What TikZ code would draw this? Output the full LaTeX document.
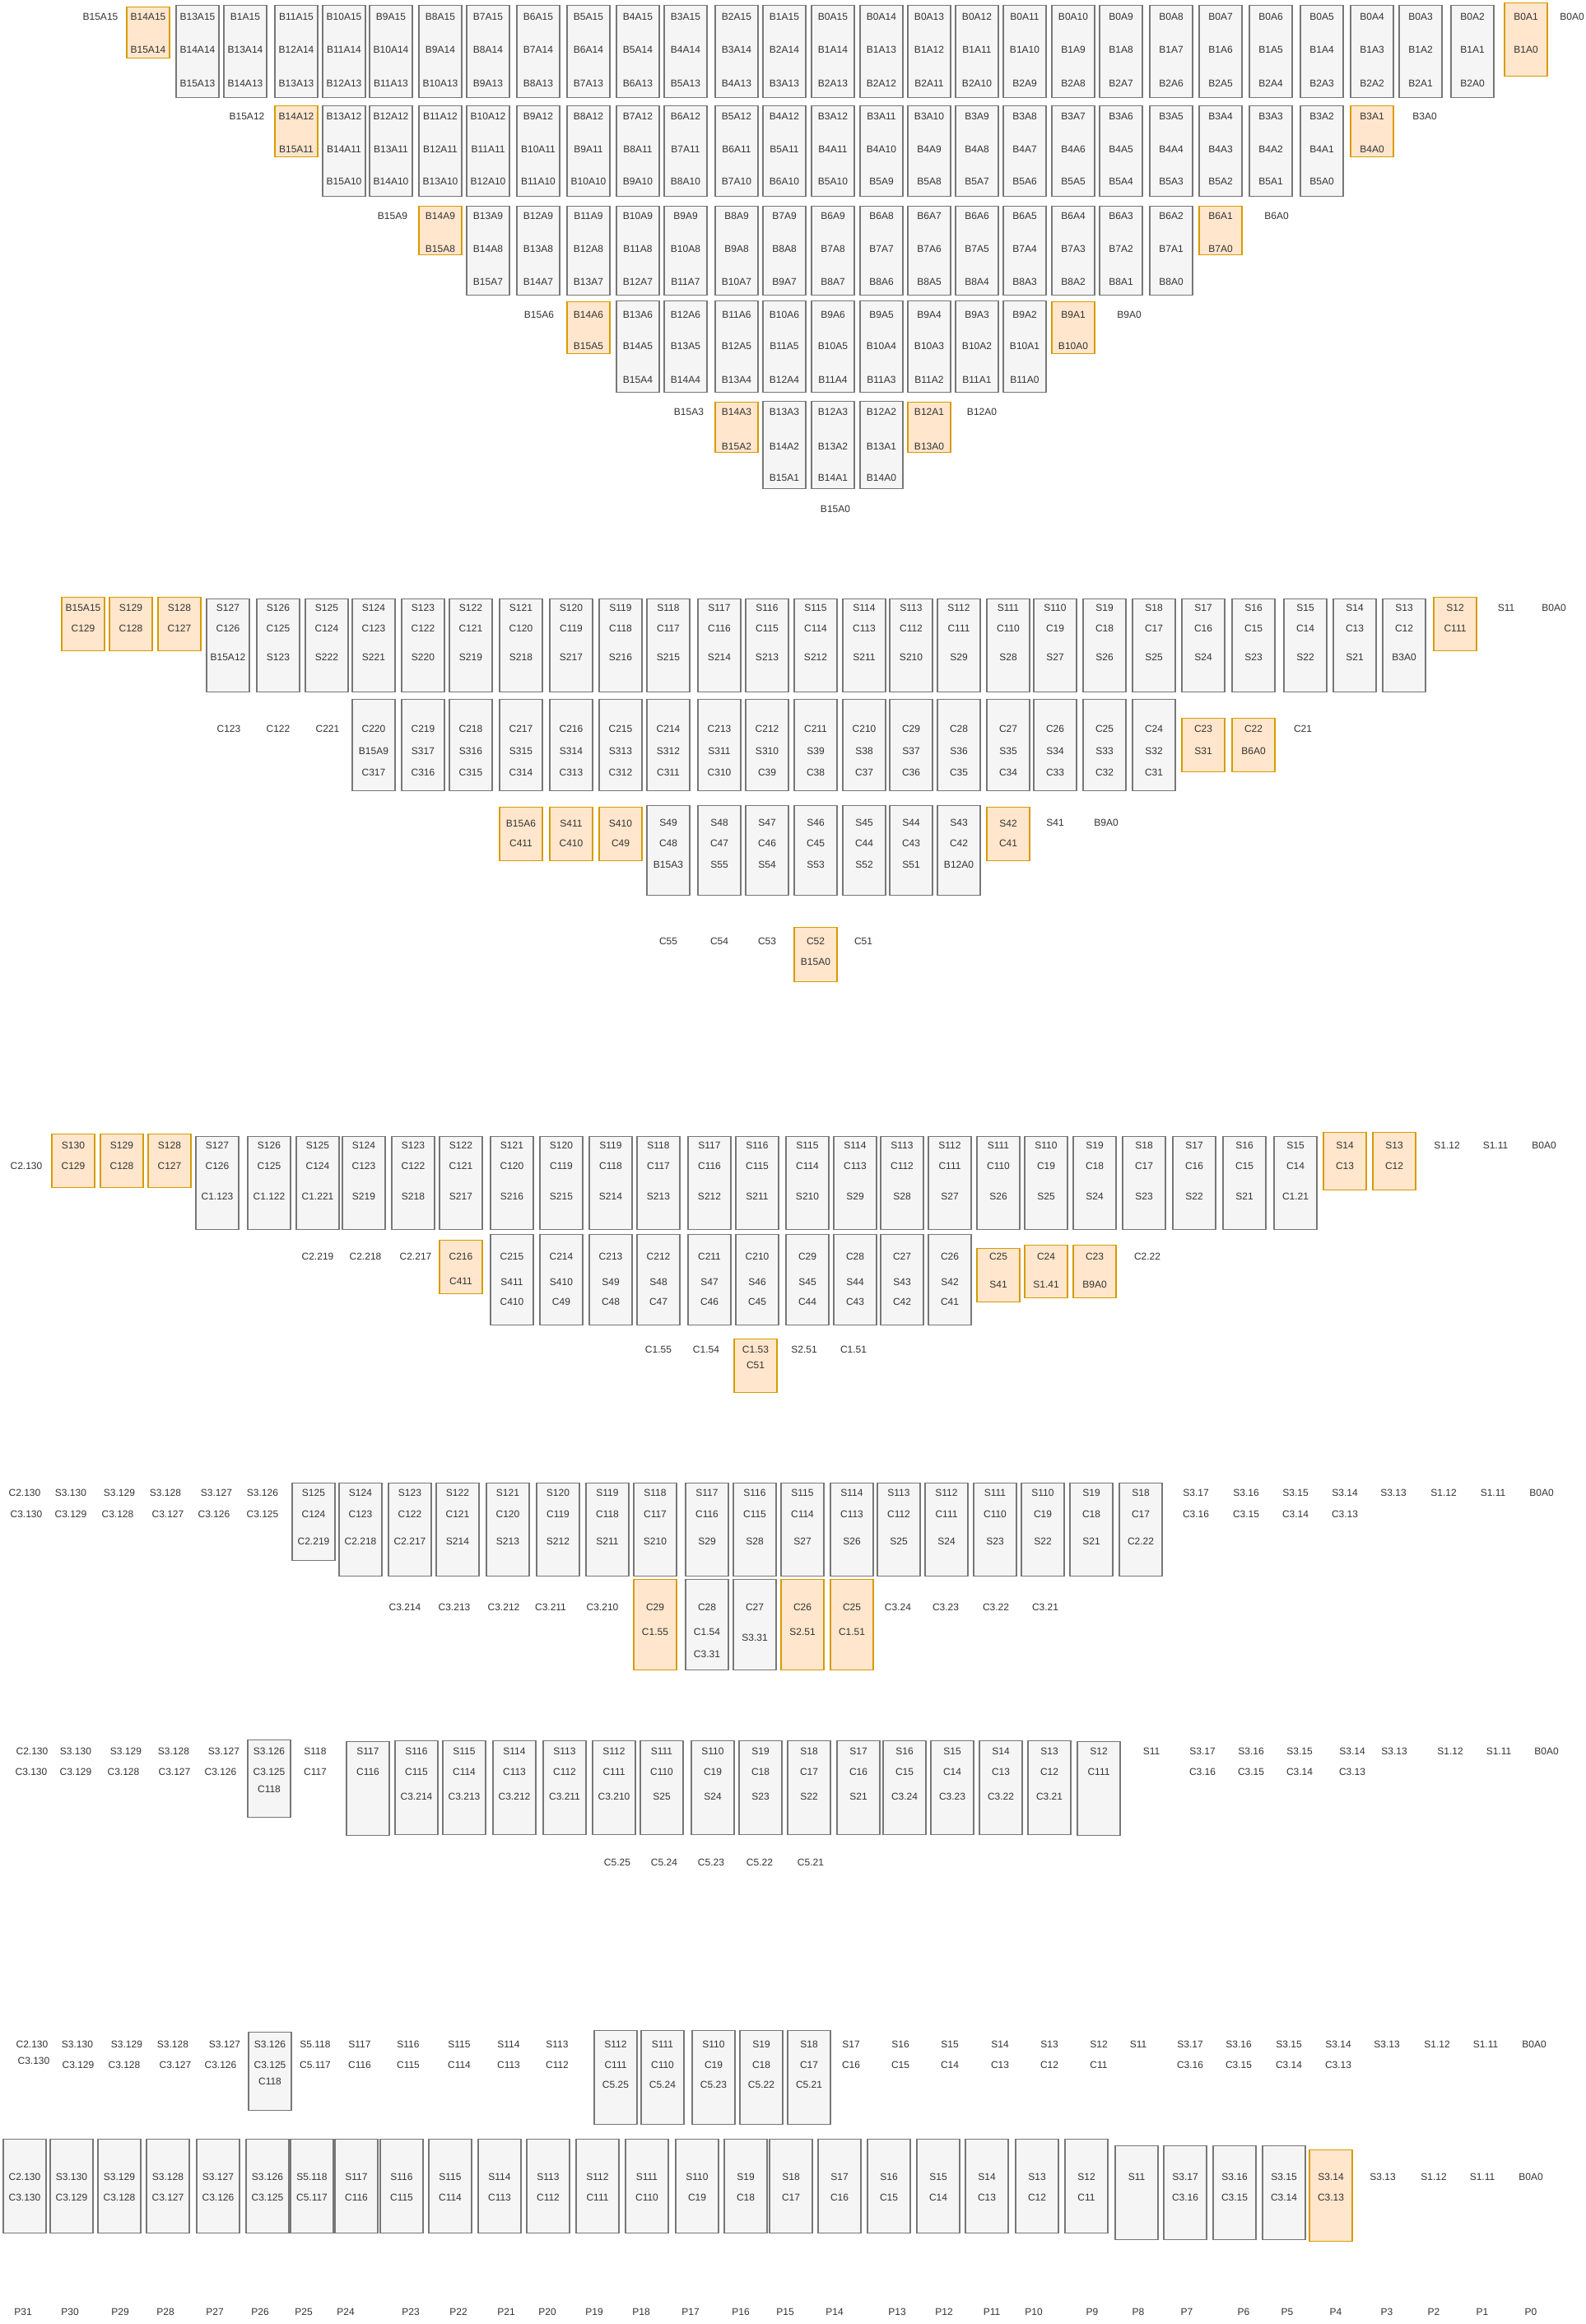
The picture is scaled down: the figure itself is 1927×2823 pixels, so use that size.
\documentclass[tikz,border=0pt]{standalone}
\usepackage{fontspec}
\setmainfont{Liberation Sans}
\definecolor{gfill}{HTML}{F5F5F5}
\definecolor{gline}{HTML}{777777}
\definecolor{ofill}{HTML}{FFE6CC}
\definecolor{oline}{HTML}{D79B00}
\definecolor{tcol}{HTML}{333333}
\tikzset{
 gb/.style={draw=gline, fill=gfill, line width=0.55pt, minimum width=26pt, inner sep=0pt, anchor=north},
 ob/.style={draw=oline, fill=ofill, line width=0.55pt, minimum width=26pt, inner sep=0pt, anchor=north},
 tx/.style={font=\fontsize{6}{7}\selectfont, text=tcol, inner sep=0pt},
}
% box: style, name, x, top, bottom
\newcommand\mybx[5]{\node[#1, minimum height={(#5-#4)*0.5pt}] (#2) at (#3,#4) {};}
% text: name, x, y, text
\newcommand\mytx[4]{\node[tx] (#1) at (#2,#3) {#4};}
% three-line gray boxes: prefix, top, bottom, y1, y2, y3, list x/a/b/c
\newcommand\rowthree[7]{%
 \foreach \x/\p/\q/\r [count=\k] in {#7} {%
   \mybx{gb}{#1\k}{\x}{#2}{#3}
   \mytx{#1\k-a}{\x}{#4}{\p}
   \mytx{#1\k-b}{\x}{#5}{\q}
   \mytx{#1\k-c}{\x}{#6}{\r}
 }}
% two-line boxes: prefix, style, top, bottom, y1, y2, list x/a/b
\newcommand\rowtwo[7]{%
 \foreach \x/\p/\q [count=\k] in {#7} {%
   \mybx{#2}{#1\k}{\x}{#3}{#4}
   \mytx{#1\k-a}{\x}{#5}{\p}
   \mytx{#1\k-b}{\x}{#6}{\q}
 }}
% one-line boxes: prefix, style, top, bottom, y, list x/a
\newcommand\rowone[6]{%
 \foreach \x/\p [count=\k] in {#6} {%
   \mybx{#2}{#1\k}{\x}{#3}{#4}
   \mytx{#1\k-a}{\x}{#5}{\p}
 }}
% single labels: prefix, y, list x/t
\newcommand\mylabs[3]{%
 \foreach \x/\t [count=\k] in {#3} {\mytx{#1\k}{\x}{#2}{\t}}}
% two-line labels: prefix, y1, y2, list x1/t1/x2/t2
\newcommand\labtwo[4]{%
 \foreach \x/\p/\xx/\q [count=\k] in {#4} {\mytx{#1\k-a}{\x}{#2}{\p}\mytx{#1\k-b}{\xx}{#3}{\q}}}

\begin{document}
\begin{tikzpicture}[x=0.5pt,y=-0.5pt]
\fill[white] (0,0) rectangle (1927,2823);
\useasboundingbox (0,0) rectangle (1927,2823);

%================ SECTION 1 =================
% row 1
\mylabs{aL}{20}{122/B15A15,1910/B0A0}
\rowtwo{aO}{ob}{8}{70}{20}{60}{180/B14A15/B15A14}
\rowtwo{aP}{ob}{3}{92}{20}{60}{1854/B0A1/B1A0}
\rowthree{aG}{6}{118}{20}{60}{101}{240/B13A15/B14A14/B15A13,298/B1A15/B13A14/B14A13,360/B11A15/B12A14/B13A13,418/B10A15/B11A14/B12A13,475/B9A15/B10A14/B11A13,535/B8A15/B9A14/B10A13,593/B7A15/B8A14/B9A13,654/B6A15/B7A14/B8A13,715/B5A15/B6A14/B7A13,775/B4A15/B5A14/B6A13,833/B3A15/B4A14/B5A13,895/B2A15/B3A14/B4A13,953/B1A15/B2A14/B3A13,1012/B0A15/B1A14/B2A13,1071/B0A14/B1A13/B2A12,1129/B0A13/B1A12/B2A11,1187/B0A12/B1A11/B2A10,1245/B0A11/B1A10/B2A9,1304/B0A10/B1A9/B2A8,1362/B0A9/B1A8/B2A7,1423/B0A8/B1A7/B2A6,1483/B0A7/B1A6/B2A5,1544/B0A6/B1A5/B2A4,1606/B0A5/B1A4/B2A3,1667/B0A4/B1A3/B2A2,1726/B0A3/B1A2/B2A1,1789/B0A2/B1A1/B2A0}
% row 2
\mylabs{bL}{141}{300/B15A12,1731/B3A0}
\rowtwo{bO}{ob}{128}{190}{141}{181}{360/B14A12/B15A11,1667/B3A1/B4A0}
\rowthree{bG}{128}{238}{141}{181}{220}{418/B13A12/B14A11/B15A10,475/B12A12/B13A11/B14A10,535/B11A12/B12A11/B13A10,593/B10A12/B11A11/B12A10,654/B9A12/B10A11/B11A10,715/B8A12/B9A11/B10A10,775/B7A12/B8A11/B9A10,833/B6A12/B7A11/B8A10,895/B5A12/B6A11/B7A10,953/B4A12/B5A11/B6A10,1012/B3A12/B4A11/B5A10,1071/B3A11/B4A10/B5A9,1129/B3A10/B4A9/B5A8,1187/B3A9/B4A8/B5A7,1245/B3A8/B4A7/B5A6,1304/B3A7/B4A6/B5A5,1362/B3A6/B4A5/B5A4,1423/B3A5/B4A4/B5A3,1483/B3A4/B4A3/B5A2,1544/B3A3/B4A2/B5A1,1606/B3A2/B4A1/B5A0}
% row 3
\mylabs{cL}{262}{477/B15A9,1551/B6A0}
\rowtwo{cO}{ob}{250}{309}{262}{302}{535/B14A9/B15A8,1483/B6A1/B7A0}
\rowthree{cG}{250}{358}{262}{302}{342}{593/B13A9/B14A8/B15A7,654/B12A9/B13A8/B14A7,715/B11A9/B12A8/B13A7,775/B10A9/B11A8/B12A7,833/B9A9/B10A8/B11A7,895/B8A9/B9A8/B10A7,953/B7A9/B8A8/B9A7,1012/B6A9/B7A8/B8A7,1071/B6A8/B7A7/B8A6,1129/B6A7/B7A6/B8A5,1187/B6A6/B7A5/B8A4,1245/B6A5/B7A4/B8A3,1304/B6A4/B7A3/B8A2,1362/B6A3/B7A2/B8A1,1423/B6A2/B7A1/B8A0}
% row 4
\mylabs{dL}{382}{655/B15A6,1372/B9A0}
\rowtwo{dO}{ob}{366}{429}{382}{420}{715/B14A6/B15A5,1304/B9A1/B10A0}
\rowthree{dG}{365}{476}{382}{420}{461}{775/B13A6/B14A5/B15A4,833/B12A6/B13A5/B14A4,895/B11A6/B12A5/B13A4,953/B10A6/B11A5/B12A4,1012/B9A6/B10A5/B11A4,1071/B9A5/B10A4/B11A3,1129/B9A4/B10A3/B11A2,1187/B9A3/B10A2/B11A1,1245/B9A2/B10A1/B11A0}
% row 5
\mylabs{eL}{500}{837/B15A3,1193/B12A0}
\rowtwo{eO}{ob}{488}{549}{500}{542}{895/B14A3/B15A2,1129/B12A1/B13A0}
\rowthree{eG}{487}{593}{500}{542}{580}{953/B13A3/B14A2/B15A1,1012/B12A3/B13A2/B14A1,1071/B12A2/B13A1/B14A0}
% row 6
\mylabs{fL}{618}{1015/B15A0}

%================ SECTION 2 =================
% S1
\mylabs{gL}{738}{1830/S11,1888/B0A0}
\rowtwo{gO}{ob}{725}{790}{738}{763}{101/B15A15/C129,159/S129/C128,218/S128/C127,1768/S12/C111}
\rowthree{gG}{727}{840}{738}{763}{798}{277/S127/C126/B15A12,338/S126/C125/S123,397/S125/C124/S222,454/S124/C123/S221,514/S123/C122/S220,572/S122/C121/S219,633/S121/C120/S218,694/S120/C119/S217,754/S119/C118/S216,812/S118/C117/S215,874/S117/C116/S214,932/S116/C115/S213,991/S115/C114/S212,1050/S114/C113/S211,1107/S113/C112/S210,1165/S112/C111/S29,1225/S111/C110/S28,1282/S110/C19/S27,1342/S19/C18/S26,1402/S18/C17/S25,1462/S17/C16/S24,1523/S16/C15/S23,1586/S15/C14/S22,1646/S14/C13/S21,1706/S13/C12/B3A0}
% S2
\mylabs{hL}{885}{278/C123,338/C122,398/C221,1583/C21}
\rowtwo{hO}{ob}{872}{937}{885}{912}{1462/C23/S31,1523/C22/B6A0}
\rowthree{hG}{849}{960}{885}{912}{938}{454/C220/B15A9/C317,514/C219/S317/C316,572/C218/S316/C315,633/C217/S315/C314,694/C216/S314/C313,754/C215/S313/C312,812/C214/S312/C311,874/C213/S311/C310,932/C212/S310/C39,991/C211/S39/C38,1050/C210/S38/C37,1107/C29/S37/C36,1165/C28/S36/C35,1225/C27/S35/C34,1282/C26/S34/C33,1342/C25/S33/C32,1402/C24/S32/C31}
% S3
\mylabs{iL}{999}{1282/S41,1344/B9A0}
\rowtwo{iO}{ob}{980}{1045}{1000}{1024}{633/B15A6/C411,694/S411/C410,754/S410/C49,1225/S42/C41}
\rowthree{iG}{978}{1087}{999}{1024}{1050}{812/S49/C48/B15A3,874/S48/C47/S55,932/S47/C46/S54,991/S46/C45/S53,1050/S45/C44/S52,1107/S44/C43/S51,1165/S43/C42/B12A0}
% S4
\mylabs{jL}{1143}{812/C55,874/C54,932/C53,1049/C51}
\rowtwo{jO}{ob}{1126}{1192}{1143}{1168}{991/C52/B15A0}

%================ SECTION 3 =================
% T1
\mylabs{kL}{1391}{1758/S1.12,1817/S1.11,1876/B0A0}
\mytx{kC}{32}{1416}{C2.130}
\rowtwo{kO}{ob}{1377}{1442}{1391}{1416}{89/S130/C129,148/S129/C128,206/S128/C127}
\rowtwo{kP}{ob}{1375}{1445}{1391}{1416}{1634/S14/C13,1694/S13/C12}
\rowthree{kG}{1380}{1493}{1391}{1416}{1453}{264/S127/C126/C1.123,327/S126/C125/C1.122,386/S125/C124/C1.221,442/S124/C123/S219,502/S123/C122/S218,560/S122/C121/S217,622/S121/C120/S216,682/S120/C119/S215,742/S119/C118/S214,800/S118/C117/S213,862/S117/C116/S212,920/S116/C115/S211,981/S115/C114/S210,1039/S114/C113/S29,1096/S113/C112/S28,1154/S112/C111/S27,1213/S111/C110/S26,1271/S110/C19/S25,1330/S19/C18/S24,1390/S18/C17/S23,1451/S17/C16/S22,1512/S16/C15/S21,1574/S15/C14/C1.21}
% T2
\mylabs{lL}{1526}{386/C2.219,444/C2.218,505/C2.217,1394/C2.22}
\rowtwo{lO}{ob}{1506}{1571}{1526}{1556}{560/C216/C411}
\rowtwo{lP}{ob}{1516}{1581}{1526}{1560}{1213/C25/S41}
\rowtwo{lQ}{ob}{1512}{1576}{1526}{1560}{1271/C24/S1.41,1330/C23/B9A0}
\rowthree{lG}{1499}{1609}{1526}{1557}{1581}{622/C215/S411/C410,682/C214/S410/C49,742/C213/S49/C48,800/C212/S48/C47,862/C211/S47/C46,920/C210/S46/C45,981/C29/S45/C44,1039/C28/S44/C43,1096/C27/S43/C42,1154/C26/S42/C41}
% T3
\mylabs{mL}{1639}{800/C1.55,858/C1.54,977/S2.51,1037/C1.51}
\rowtwo{mO}{ob}{1626}{1691}{1639}{1658}{918/C1.53/C51}

%================ SECTION 4 =================
% U1
\labtwo{nT}{1813}{1839}{30/C2.130/32/C3.130,86/S3.130/86/C3.129,145/S3.129/143/C3.128,201/S3.128/204/C3.127,263/S3.127/260/C3.126,319/S3.126/319/C3.125,1453/S3.17/1453/C3.16,1514/S3.16/1514/C3.15,1574/S3.15/1574/C3.14,1634/S3.14/1634/C3.13}
\mylabs{nL}{1813}{1693/S3.13,1754/S1.12,1814/S1.11,1873/B0A0}
\rowthree{nS}{1801}{1895}{1813}{1839}{1872}{381/S125/C124/C2.219}
\rowthree{nG}{1801}{1914}{1813}{1839}{1872}{438/S124/C123/C2.218,498/S123/C122/C2.217,556/S122/C121/S214,617/S121/C120/S213,678/S120/C119/S212,738/S119/C118/S211,796/S118/C117/S210,859/S117/C116/S29,917/S116/C115/S28,975/S115/C114/S27,1035/S114/C113/S26,1092/S113/C112/S25,1150/S112/C111/S24,1209/S111/C110/S23,1267/S110/C19/S22,1326/S19/C18/S21,1386/S18/C17/C2.22}
% U2
\mylabs{oL}{1952}{492/C3.214,552/C3.213,612/C3.212,669/C3.211,732/C3.210,1091/C3.24,1149/C3.23,1210/C3.22,1270/C3.21}
\rowtwo{oO}{ob}{1918}{2028}{1952}{1982}{796/C29/C1.55,975/C26/S2.51,1035/C25/C1.51}
\rowthree{oG}{1918}{2028}{1952}{1982}{2009}{859/C28/C1.54/C3.31}
\rowtwo{oH}{gb}{1918}{2028}{1952}{1989}{917/C27/S3.31}

%================ SECTION 5 =================
% V1
\labtwo{pT}{2127}{2152}{39/C2.130/38/C3.130,92/S3.130/92/C3.129,153/S3.129/150/C3.128,211/S3.128/212/C3.127,272/S3.127/268/C3.126,383/S118/383/C117,1461/S3.17/1461/C3.16,1520/S3.16/1520/C3.15,1579/S3.15/1579/C3.14,1643/S3.14/1643/C3.13}
\mylabs{pL}{2127}{1399/S11,1694/S3.13,1762/S1.12,1821/S1.11,1879/B0A0}
\rowthree{pS}{2113}{2207}{2127}{2152}{2173}{327/S3.126/C3.125/C118}
\rowtwo{pH}{gb}{2115}{2229}{2127}{2152}{447/S117/C116,1335/S12/C111}
\rowthree{pG}{2114}{2228}{2127}{2152}{2182}{506/S116/C115/C3.214,564/S115/C114/C3.213,625/S114/C113/C3.212,686/S113/C112/C3.211,746/S112/C111/C3.210,804/S111/C110/S25,866/S110/C19/S24,924/S19/C18/S23,983/S18/C17/S22,1043/S17/C16/S21,1099/S16/C15/C3.24,1157/S15/C14/C3.23,1216/S14/C13/C3.22,1275/S13/C12/C3.21}
% V2
\mylabs{qL}{2262}{750/C5.25,807/C5.24,864/C5.23,923/C5.22,985/C5.21}

%================ SECTION 6 =================
% W1
\labtwo{rT}{2483}{2508}{94/S3.130/95/C3.129,154/S3.129/151/C3.128,210/S3.128/213/C3.127,273/S3.127/268/C3.126,383/S5.118/383/C5.117,437/S117/437/C116,496/S116/496/C115,558/S115/558/C114,618/S114/618/C113,677/S113/677/C112,1034/S17/1034/C16,1094/S16/1094/C15,1154/S15/1154/C14,1215/S14/1215/C13,1275/S13/1275/C12,1335/S12/1335/C11,1446/S3.17/1446/C3.16,1505/S3.16/1505/C3.15,1566/S3.15/1566/C3.14,1626/S3.14/1626/C3.13}
\mytx{rC1}{39}{2483}{C2.130}
\mytx{rC2}{41}{2503}{C3.130}
\mylabs{rL}{2483}{1383/S11,1685/S3.13,1746/S1.12,1805/S1.11,1864/B0A0}
\rowthree{rS}{2468}{2563}{2483}{2508}{2528}{328/S3.126/C3.125/C118}
\rowthree{rG}{2466}{2580}{2483}{2508}{2532}{748/S112/C111/C5.25,805/S111/C110/C5.24,867/S110/C19/C5.23,925/S19/C18/C5.22,983/S18/C17/C5.21}
% W2
\rowtwo{sG}{gb}{2598}{2712}{2644}{2669}{30/C2.130/C3.130,87/S3.130/C3.129,145/S3.129/C3.128,204/S3.128/C3.127,265/S3.127/C3.126,325/S3.126/C3.125,379/S5.118/C5.117,433/S117/C116,488/S116/C115,547/S115/C114,607/S114/C113,666/S113/C112,726/S112/C111,786/S111/C110,847/S110/C19,906/S19/C18,961/S18/C17,1020/S17/C16,1080/S16/C15,1140/S15/C14,1199/S14/C13,1260/S13/C12,1320/S12/C11}
\rowone{sS}{gb}{2606}{2720}{2644}{1381/S11}
\rowtwo{sH}{gb}{2606}{2720}{2644}{2669}{1440/S3.17/C3.16,1500/S3.16/C3.15,1560/S3.15/C3.14}
\rowtwo{sO}{ob}{2611}{2722}{2644}{2669}{1617/S3.14/C3.13}
\mylabs{sL}{2644}{1680/S3.13,1742/S1.12,1801/S1.11,1860/B0A0}
% P labels
\mylabs{tP}{2808}{28/P31,85/P30,146/P29,201/P28,261/P27,316/P26,369/P25,420/P24,499/P23,557/P22,615/P21,665/P20,722/P19,779/P18,839/P17,900/P16,954/P15,1014/P14,1090/P13,1147/P12,1205/P11,1256/P10,1327/P9,1383/P8,1442/P7,1511/P6,1564/P5,1623/P4,1685/P3,1742/P2,1801/P1,1860/P0}
\end{tikzpicture}
\end{document}
